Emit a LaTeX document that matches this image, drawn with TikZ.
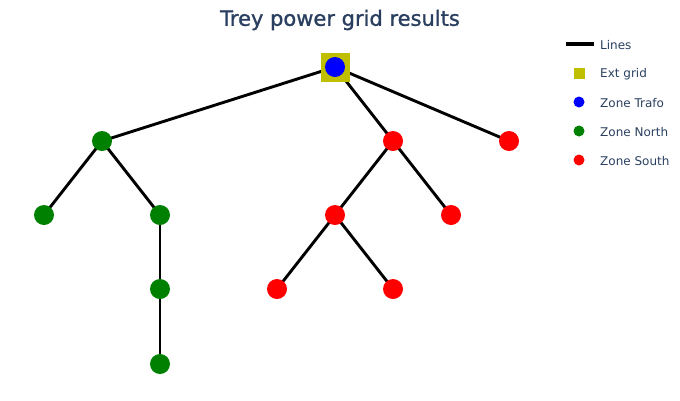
\documentclass[tikz,border=0pt]{standalone}
\usepackage{fontspec}
\setmainfont{DejaVu Sans}
\newfontfamily\titlefont[FakeBold=1.2]{DejaVu Sans}
\usepackage{tikz}
\usetikzlibrary{backgrounds}
\definecolor{titlecol}{RGB}{42,63,95}
\definecolor{extgrid}{RGB}{191,191,0}
\definecolor{north}{RGB}{0,128,0}

\begin{document}
\begin{tikzpicture}[x=1pt,y=-1pt,
  bus/.style={circle,inner sep=0pt,minimum size=20pt,draw=none},
  north bus/.style={bus,fill=north},
  south bus/.style={bus,fill=red},
  line/.style={line width=2.9pt,black},
  legtext/.style={anchor=west,text=titlecol,font=\fontsize{12}{14}\selectfont,inner sep=0pt}]
\useasboundingbox (0,0) rectangle (680,400);
\node[text=titlecol,font=\titlefont\fontsize{21}{24}\selectfont] (title) at (340,20) {Trey power grid results};

\node[rectangle,fill=extgrid,minimum size=29pt,inner sep=0pt] (ext) at (335,67) {};
\node[bus,fill=blue] (b0) at (335,67) {};
\node[north bus] (n1) at (102,141) {};
\node[south bus] (s1) at (393,141) {};
\node[south bus] (s2) at (509,141) {};
\node[north bus] (n2) at (44,215) {};
\node[north bus] (n3) at (160,215) {};
\node[south bus] (s3) at (335,215) {};
\node[south bus] (s4) at (451,215) {};
\node[north bus] (n4) at (160,289) {};
\node[south bus] (s5) at (277,289) {};
\node[south bus] (s6) at (393,289) {};
\node[north bus] (n5) at (160,364) {};

\begin{scope}[on background layer]
\draw[line] (b0.center) -- (n1.center);
\draw[line] (b0.center) -- (s1.center);
\draw[line] (b0.center) -- (s2.center);
\draw[line] (n1.center) -- (n2.center);
\draw[line] (n1.center) -- (n3.center);
\draw[line] (n3.center) -- (n4.center);
\draw[line] (n4.center) -- (n5.center);
\draw[line] (s1.center) -- (s3.center);
\draw[line] (s1.center) -- (s4.center);
\draw[line] (s3.center) -- (s5.center);
\draw[line] (s3.center) -- (s6.center);
\end{scope}

% legend
\coordinate (l0a) at (566,44);
\coordinate (l0b) at (594,44);
\draw[line width=4.5pt] (l0a) -- (l0b);
\node[legtext] (t0) at (600,45) {Lines};
\node[rectangle,fill=extgrid,minimum size=11pt,inner sep=0pt] (k1) at (579,73) {};
\node[legtext] (t1) at (600,74) {Ext grid};
\node[circle,fill=blue,minimum size=11pt,inner sep=0pt] (k2) at (579,102) {};
\node[legtext] (t2) at (600,103) {Zone Trafo};
\node[circle,fill=north,minimum size=11pt,inner sep=0pt] (k3) at (579,131) {};
\node[legtext] (t3) at (600,132) {Zone North};
\node[circle,fill=red,minimum size=11pt,inner sep=0pt] (k4) at (579,160) {};
\node[legtext] (t4) at (600,161) {Zone South};
\end{tikzpicture}
\end{document}
